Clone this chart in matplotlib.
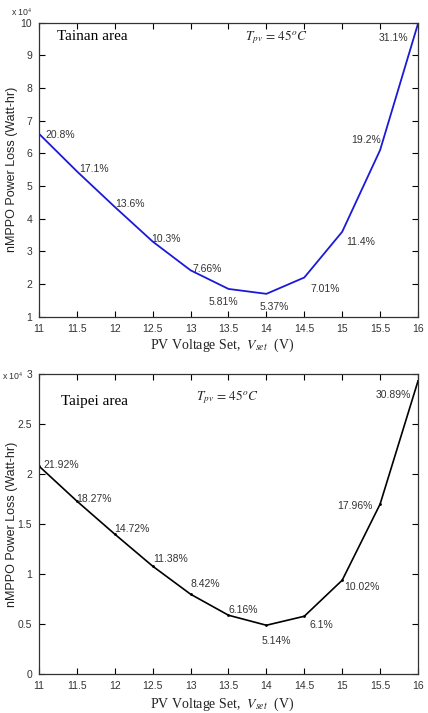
import matplotlib.pyplot as plt
import numpy as np

plt.rcParams["mathtext.fontset"] = "stix"

# PV voltage set points (V)
v_set = [11, 11.5, 12, 12.5, 13, 13.5, 14, 14.5, 15, 15.5, 16]

# nMPPO power loss, x 10^4 Watt-hr
loss_tainan = [6.6, 5.45, 4.36, 3.3, 2.42, 1.85, 1.7, 2.2, 3.6, 6.1, 9.97]
loss_taipei = [2.08, 1.73, 1.4, 1.08, 0.8, 0.59, 0.49, 0.58, 0.94, 1.7, 2.93]

pct_tainan = ["20.8%", "17.1%", "13.6%", "10.3%", "7.66%", "5.81%", "5.37%",
              "7.01%", "11.4%", "19.2%", "31.1%"]
pct_taipei = ["21.92%", "18.27%", "14.72%", "11.38%", "8.42%", "6.16%", "5.14%",
              "6.1%", "10.02%", "17.96%", "30.89%"]

# label positions (data coords, centre of text)
pos_tainan = [(11.28, 6.57), (11.73, 5.52), (12.2, 4.45), (12.67, 3.37), (13.22, 2.47),
              (13.43, 1.44), (14.1, 1.31), (14.77, 1.85), (15.24, 3.28), (15.32, 6.41),
              (15.67, 9.54)]
pos_taipei = [(11.3, 2.09), (11.73, 1.75), (12.22, 1.45), (12.74, 1.155), (13.19, 0.9),
              (13.7, 0.64), (14.13, 0.33), (14.73, 0.49), (15.26, 0.87), (15.17, 1.68),
              (15.67, 2.79)]

W, H = 428, 713
fig = plt.figure(figsize=(W / 100, H / 100), dpi=100)

sans = "Liberation Sans"
serif = "Liberation Serif"
grey = "#333333"


def make_axes(left, top, right, bottom):
    return fig.add_axes([left / W, 1 - bottom / H, (right - left) / W, (bottom - top) / H])


def style(ax, yticks, ylim, top, bottom):
    ax.set_xlim(11, 16)
    ax.set_ylim(*ylim)
    ax.set_xticks(np.arange(11, 16.01, 0.5))
    ax.set_xticklabels(["11", "11.5", "12", "12.5", "13", "13.5", "14", "14.5", "15", "15.5", "16"],
                       fontname=sans, fontsize=7.5, color=grey)
    ax.set_yticks(yticks)
    ax.set_yticklabels([("%g" % t) for t in yticks], fontname=sans, fontsize=7.5, color=grey)
    ax.tick_params(direction="in", top=True, right=True, length=4, width=0.8, pad=5)
    for s in ax.spines.values():
        s.set_linewidth(0.9)
        s.set_color(grey)
    fig.text(12 / W, 1 - (top + bottom) / 2 / H, "nMPPO Power Loss (Watt-hr)", rotation=90,
             ha="center", va="center", fontname=sans, fontsize=9, color="#222222")


def exponent(x, y):
    fig.text(x / W, 1 - y / H, r"x 10$^4$", ha="left", va="center",
             fontname=sans, fontsize=6.3, color=grey)


def xlabel(y):
    fig.text(222 / W, 1 - y / H, r"PV Voltage Set,  $V_{set}$  (V)", ha="center", va="center",
             fontname=serif, fontsize=10, color="#222222")


def tpv(ax, x, y):
    ax.text(x, y, r"$T_{pv}\,=\,45^{o}C$", ha="center", va="center", fontsize=9.5, color="#222222")


# Tainan
ax1 = make_axes(39, 22.7, 418, 316.7)
ax1.plot(v_set, loss_tainan, color="#1a1ad8", lw=1.3)
style(ax1, range(1, 11), (1, 10), 22.7, 316.7)
for s, (x, y) in zip(pct_tainan, pos_tainan):
    ax1.text(x, y, s, ha="center", va="center", fontname=sans, fontsize=7.5, color=grey)
ax1.text(11.7, 9.57, "Tainan area", ha="center", va="center", fontname=serif, fontsize=11)
tpv(ax1, 14.13, 9.57)
exponent(11, 12)
xlabel(345.7)

# Taipei
ax2 = make_axes(39, 374, 418, 674.3)
ax2.plot(v_set, loss_taipei, color="black", lw=1.2, marker=".", ms=2)
style(ax2, [0, 0.5, 1, 1.5, 2, 2.5, 3], (0, 3), 374, 674.3)
for s, (x, y) in zip(pct_taipei, pos_taipei):
    ax2.text(x, y, s, ha="center", va="center", fontname=sans, fontsize=7.5, color=grey)
ax2.text(11.73, 2.73, "Taipei area", ha="center", va="center", fontname=serif, fontsize=11)
tpv(ax2, 13.48, 2.77)
exponent(2, 376)
xlabel(704)

fig.savefig("out.png", dpi=100)
